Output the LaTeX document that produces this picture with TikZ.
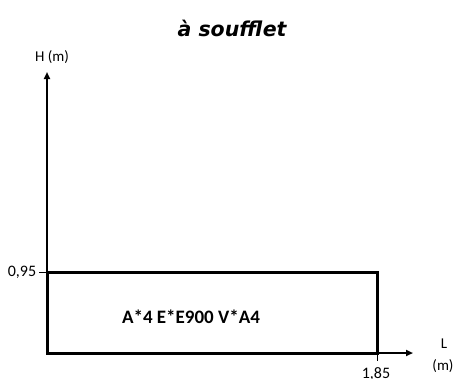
\documentclass[tikz,border=0pt]{standalone}
\usepackage{fontspec}
\setmainfont{Carlito}
\newfontfamily\titlefont{DejaVu Sans}
\usetikzlibrary{arrows.meta}
\begin{document}
\begin{tikzpicture}[x=1pt,y=-1pt,
  axis/.style={line width=2pt,-{Triangle[length=7pt,width=6pt]}},
  box/.style={line width=3pt},
  tick/.style={line width=1pt},
  lbl/.style={font=\fontsize{15}{18}\selectfont, inner sep=0pt}]
\useasboundingbox (0,0) rectangle (454,378);
\coordinate (O) at (47,353);
\coordinate (Ytop) at (47,72);
\coordinate (Xend) at (413,353);
\node[font=\titlefont\bfseries\itshape\fontsize{20.5}{24}\selectfont, inner sep=0pt] (title) at (232,28) {à soufflet};
\draw[axis] (O) -- (Ytop);
\draw[axis] (O) -- (Xend);
\coordinate (R1) at (47,272);
\coordinate (R2) at (377,272);
\coordinate (R3) at (377,353);
\draw[box] (O) -- (R1) -- (R2) -- (R3) -- cycle;
\coordinate (T1) at (39,272);
\coordinate (T2) at (377,361);
\draw[tick] (T1) -- (R1);
\draw[tick] (R3) -- (T2);
\node[lbl] (h) at (52,57) {H (m)};
\node[lbl, font=\fontsize{16}{18}\selectfont] (y95) at (22,272) {0,95};
\node[lbl, font=\fontsize{16}{18}\selectfont, anchor=north] (x185) at (376,367) {1,85};
\node[lbl] (l) at (444,344) {L};
\node[lbl] (lm) at (443,366) {(m)};
\node[inner sep=0pt, font=\bfseries\fontsize{19}{22}\selectfont] (txt) at (191,317) {A*4 E*E900 V*A4};
\end{tikzpicture}
\end{document}
